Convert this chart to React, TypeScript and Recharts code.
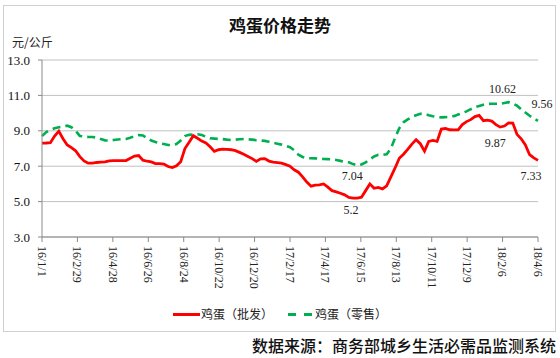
import React from "react";
import { LineChart, Line, XAxis, YAxis, CartesianGrid, LabelList } from "recharts";

const tickLabels = ["16/1/1","16/2/29","16/4/28","16/6/26","16/8/24","16/10/22","16/12/20","17/2/17","17/4/17","17/6/15","17/8/13","17/10/11","17/12/9","18/2/6","18/4/6"];
const tickDays = [0,59,118,177,236,295,354,413,472,531,590,649,708,767,826];
const yTicks = [3,5,7,9,11,13];

const wholesale = [
8.30,8.31,8.33,8.70,8.98,8.55,8.20,8.05,7.87,7.54,
7.30,7.17,7.17,7.21,7.23,7.24,7.30,7.32,7.32,7.32,
7.32,7.45,7.57,7.60,7.34,7.28,7.24,7.15,7.15,7.12,
6.98,6.92,7.02,7.25,8.00,8.35,8.72,8.58,8.42,8.31,
8.10,7.84,7.93,7.96,7.95,7.93,7.88,7.78,7.67,7.55,
7.43,7.27,7.42,7.43,7.29,7.23,7.20,7.17,7.09,7.00,
6.80,6.66,6.40,6.10,5.87,5.93,5.95,6.00,5.82,5.62,
5.55,5.47,5.38,5.24,5.20,5.20,5.25,5.62,6.00,5.75,
5.80,5.72,5.89,6.40,6.90,7.45,7.68,7.95,8.25,8.50,
8.27,7.85,8.40,8.46,8.40,9.10,9.14,9.06,9.05,9.05,
9.35,9.52,9.63,9.80,9.87,9.57,9.60,9.55,9.35,9.21,
9.27,9.45,9.44,8.80,8.55,8.20,7.65,7.47,7.33
];

const retail = [
8.70,8.93,9.05,9.14,9.20,9.25,9.29,9.20,9.00,8.71,
8.67,8.65,8.65,8.62,8.53,8.46,8.45,8.48,8.51,8.53,
8.54,8.61,8.70,8.76,8.74,8.58,8.45,8.37,8.30,8.25,
8.20,8.20,8.25,8.45,8.70,8.77,8.79,8.80,8.76,8.67,
8.58,8.56,8.54,8.53,8.50,8.48,8.50,8.52,8.54,8.52,
8.50,8.47,8.45,8.43,8.38,8.32,8.27,8.22,8.15,8.07,
7.90,7.65,7.52,7.45,7.45,7.44,7.42,7.41,7.40,7.39,
7.35,7.30,7.25,7.22,7.12,7.04,7.10,7.22,7.38,7.55,
7.64,7.65,7.67,8.00,8.60,9.15,9.48,9.64,9.78,9.88,
9.96,9.95,9.88,9.82,9.78,9.76,9.77,9.80,9.83,9.92,
10.00,10.10,10.22,10.33,10.40,10.47,10.52,10.53,10.53,10.53,
10.57,10.62,10.55,10.42,10.22,10.03,9.85,9.70,9.56
];

const wholesaleLabelIdx = [74, 104, 118];
const wholesaleLabelText = ["5.2", "9.87", "7.33"];
const retailLabelIdx = [75, 111, 118];
const retailLabelText = ["7.04", "10.62", "9.56"];

const data = wholesale.map((w, i) => ({ day: i * 7, wholesale: w, retail: retail[i] }));

const labelOffsets: Record<string, [number, number]> = {
  "w74": [-2, 16],
  "w104": [16, 32],
  "w118": [-7, 20],
  "r75": [-5, 15],
  "r111": [-6, -9],
  "r118": [4, -13],
};

const makeLabel = (prefix: string, idxs: number[], texts: string[]) => (p: any) => {
  const k = idxs.indexOf(p.index);
  if (k < 0) return null;
  const off = labelOffsets[prefix + p.index] || [0, 0];
  return (
    <text x={p.x + off[0]} y={p.y + off[1]} textAnchor="middle" fontSize={12}
      fontFamily="'Liberation Serif', serif" fill="#222">{texts[k]}</text>
  );
};

const XTick = (props: any) => {
  const { x, y, payload } = props;
  const k = tickDays.indexOf(payload.value);
  const label = k >= 0 ? tickLabels[k] : "";
  return (
    <text x={x} y={y + 2} dy="0.35em" transform={`rotate(90 ${x} ${y + 2})`} textAnchor="start"
      fontSize={12} fontFamily="'Liberation Serif', serif" fill="#222">{label}</text>
  );
};

export default function App() {
  return (
    <div style={{ position: "absolute", left: 0, top: 0, width: 560, height: 358, background: "#fff", overflow: "hidden" }}>
      <div style={{ position: "absolute", left: 3, top: 5, width: 551, height: 325, border: "1px solid #d0d0d0" }} />
      <div style={{ position: "absolute", left: 0, top: 14, width: 560, textAlign: "center", fontFamily: "'Noto Sans CJK SC', sans-serif", fontWeight: 700, fontSize: 17, color: "#111", lineHeight: "22px" }}>鸡蛋价格走势</div>
      <div style={{ position: "absolute", left: 12, top: 34, fontFamily: "'Noto Sans CJK SC', sans-serif", fontSize: 12, color: "#222", lineHeight: "16px" }}>元/公斤</div>
      <div style={{ position: "absolute", left: 0, top: 0 }}>
        <LineChart width={560} height={358} data={data} margin={{ top: 60, right: 22, left: 0, bottom: 0 }}>
          <CartesianGrid vertical={false} stroke="#c0c0c0" strokeWidth={1} />
          <XAxis dataKey="day" type="number" domain={[0, 826]} ticks={tickDays} interval={0}
            height={121} tick={<XTick />} tickSize={5} tickMargin={2}
            axisLine={{ stroke: "#8a8a8a" }} tickLine={{ stroke: "#8a8a8a" }} />
          <YAxis domain={[3, 13]} ticks={yTicks} width={42} tickFormatter={(v: number) => v.toFixed(1)}
            tick={{ fontSize: 13, fontFamily: "'Liberation Serif', serif", fill: "#111" }}
            tickSize={4} tickMargin={8} axisLine={{ stroke: "#8a8a8a" }} tickLine={{ stroke: "#8a8a8a" }} />
          <Line type="linear" dataKey="retail" stroke="#00b050" strokeWidth={2.6} strokeDasharray="8 5"
            dot={false} isAnimationActive={false}>
            <LabelList dataKey="retail" content={makeLabel("r", retailLabelIdx, retailLabelText)} />
          </Line>
          <Line type="linear" dataKey="wholesale" stroke="#ff0000" strokeWidth={2.8}
            dot={false} isAnimationActive={false}>
            <LabelList dataKey="wholesale" content={makeLabel("w", wholesaleLabelIdx, wholesaleLabelText)} />
          </Line>
        </LineChart>
      </div>
      <div style={{ position: "absolute", left: 173, top: 313, width: 27, height: 3, background: "#ff0000" }} />
      <div style={{ position: "absolute", left: 201, top: 305, fontFamily: "'Noto Sans CJK SC', sans-serif", fontSize: 12, color: "#222", lineHeight: "18px" }}>鸡蛋（批发）</div>
      <div style={{ position: "absolute", left: 288, top: 313, width: 8, height: 3, background: "#00b050" }} />
      <div style={{ position: "absolute", left: 304, top: 313, width: 8, height: 3, background: "#00b050" }} />
      <div style={{ position: "absolute", left: 315, top: 305, fontFamily: "'Noto Sans CJK SC', sans-serif", fontSize: 12, color: "#222", lineHeight: "18px" }}>鸡蛋（零售）</div>
      <div style={{ position: "absolute", left: 252, top: 334, width: 304, textAlign: "center", fontFamily: "'Noto Sans CJK SC', sans-serif", fontWeight: 500, fontSize: 16, color: "#111", lineHeight: "22px", whiteSpace: "nowrap" }}>数据来源：商务部城乡生活必需品监测系统</div>
    </div>
  );
}
